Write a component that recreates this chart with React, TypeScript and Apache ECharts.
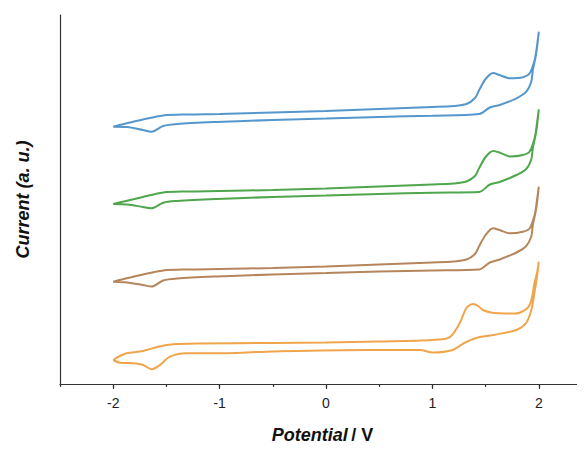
import React, { useEffect, useRef } from "react";
import * as echarts from "echarts";

// Potential (V) vs current (a.u.), each cyclic voltammogram as a closed loop
const blueCV: [number, number][] = [
  [-2.0, 257.3], [-1.9, 260], [-1.72, 264.5], [-1.53, 268.5], [-1.3, 269.5], [-1.0, 270],
  [-0.5, 271.5], [0, 273], [0.5, 275], [1.0, 277], [1.2, 278], [1.32, 280], [1.4, 286],
  [1.44, 294], [1.5, 305], [1.57, 311], [1.63, 309], [1.73, 305.7], [1.85, 306.7],
  [1.914, 310.7], [1.961, 324], [1.982, 337.3], [2.0, 352.3],
  [1.975, 330], [1.944, 314], [1.929, 302.3], [1.882, 292.3], [1.79, 285.7], [1.632, 279],
  [1.54, 276.5], [1.44, 270], [1.0, 268.3], [0.5, 267], [0, 265.5], [-0.5, 264],
  [-1.03, 262], [-1.4, 260], [-1.53, 258], [-1.64, 252.3], [-1.72, 254], [-1.87, 257],
  [-2.0, 257.3],
];

const greenCV: [number, number][] = [
  [-2.0, 180], [-1.9, 182.5], [-1.72, 187], [-1.53, 191.5], [-1.3, 192.5], [-1.0, 193],
  [-0.5, 194], [0, 195.5], [0.5, 197.5], [1.0, 199.5], [1.2, 200.5], [1.32, 202.5],
  [1.4, 208], [1.44, 216], [1.5, 227], [1.57, 233], [1.63, 231.5], [1.73, 227.5],
  [1.85, 229], [1.914, 232.5], [1.961, 246], [1.982, 260], [2.0, 274.7],
  [1.975, 252], [1.944, 236], [1.929, 224.5], [1.882, 215], [1.79, 209], [1.632, 202],
  [1.54, 199.5], [1.44, 192], [1.0, 191.3], [0.5, 190], [0, 188.5], [-0.5, 187],
  [-1.03, 185], [-1.4, 183], [-1.53, 181.3], [-1.64, 175.7], [-1.72, 177], [-1.87, 179.5],
  [-2.0, 180],
];

const brownCV: [number, number][] = [
  [-2.0, 102.3], [-1.9, 105], [-1.72, 109.5], [-1.53, 113.5], [-1.3, 114.5], [-1.0, 115],
  [-0.5, 116], [0, 117.5], [0.5, 119.5], [1.0, 121.5], [1.2, 122.5], [1.32, 124.5],
  [1.4, 130], [1.44, 138], [1.5, 149], [1.57, 155.7], [1.63, 154], [1.73, 150.7],
  [1.85, 152.3], [1.914, 155.5], [1.961, 169], [1.982, 183], [2.0, 197.3],
  [1.975, 175], [1.944, 159], [1.929, 147.5], [1.882, 138], [1.79, 131.5], [1.632, 124.5],
  [1.54, 121.5], [1.44, 114.5], [1.0, 113.5], [0.5, 112.5], [0, 111], [-0.5, 109.5],
  [-1.03, 107.5], [-1.4, 105.5], [-1.53, 103.5], [-1.64, 97.5], [-1.72, 99], [-1.87, 101.5],
  [-2.0, 102.3],
];

const orangeCV: [number, number][] = [
  [-2.0, 24], [-1.937, 28], [-1.874, 30.7], [-1.75, 32.5], [-1.686, 34], [-1.577, 37.3],
  [-1.436, 39.7], [-1.2, 40.5], [-0.5, 41], [0, 41.5], [0.5, 42.5], [1.0, 44], [1.16, 46.7],
  [1.256, 60.7], [1.319, 75.7], [1.381, 80], [1.43, 78], [1.475, 74], [1.55, 71.5],
  [1.632, 70.7], [1.75, 70.5], [1.82, 71.3], [1.914, 79], [1.96, 101], [1.985, 112],
  [2.0, 122.3],
  [1.985, 109], [1.96, 92], [1.93, 74], [1.88, 61], [1.79, 54], [1.57, 49], [1.41, 46],
  [1.3, 41], [1.19, 34], [1.005, 31.5], [0.88, 34], [0.38, 34], [-0.56, 32.3],
  [-1.03, 30.7], [-1.31, 30.7], [-1.467, 27.3], [-1.561, 19], [-1.639, 14.7],
  [-1.718, 19], [-1.812, 20.7], [-1.937, 21.3], [-2.0, 24],
];

const majorTicks = [-2, -1, 0, 1, 2];
const xTitle = "{a|Potential} {b|/ V}";
const yTitle = "Current (a. u.)";

const axisColor = "#333333";
const font = "Liberation Sans, Arial, sans-serif";

export default function App() {
  const ref = useRef<HTMLDivElement>(null);
  useEffect(() => {
    if (!ref.current) return;
    const chart = echarts.init(ref.current, undefined, { renderer: "svg" });
    const mk = (data: [number, number][], color: string) => ({
      type: "line",
      data,
      showSymbol: false,
      smooth: 0.3,
      lineStyle: { color, width: 2 },
      xAxisIndex: 0,
      yAxisIndex: 0,
    });
    chart.setOption({
      animation: false,
      grid: { left: 60, right: -7, top: 15, bottom: 66 },
      xAxis: [
        {
          type: "value",
          min: -2.5,
          max: 2.5,
          splitLine: { show: false },
          axisLine: { show: true, onZero: false, lineStyle: { color: axisColor, width: 1.2 } },
          axisTick: { show: true, length: 5, customValues: majorTicks, lineStyle: { color: axisColor, width: 1.2 } },
          axisLabel: {
            customValues: majorTicks,
            margin: 12,
            fontSize: 14,
            color: "#222",
            fontFamily: font,
          },
          name: xTitle,
          nameLocation: "middle",
          nameGap: 42,
          nameTextStyle: {
            padding: [0, 7, 0, 0],
            rich: {
              a: { fontSize: 18, fontWeight: "bold", fontStyle: "italic", fontFamily: font, color: "#111" },
              b: { fontSize: 18, fontWeight: "bold", fontFamily: font, color: "#111" },
            },
          },
        },
        {
          type: "value",
          min: -2.5,
          max: 2.5,
          interval: 0.5,
          position: "bottom",
          splitLine: { show: false },
          axisLine: { show: false, onZero: false },
          axisTick: { show: true, length: 3, lineStyle: { color: axisColor, width: 1.2 } },
          axisLabel: { show: false },
        },
      ],
      yAxis: {
        type: "value",
        min: 0,
        max: 369,
        splitLine: { show: false },
        axisLine: { show: true, onZero: false, lineStyle: { color: axisColor, width: 1.2 } },
        axisTick: { show: false },
        axisLabel: { show: false },
        name: yTitle,
        nameLocation: "middle",
        nameGap: 28,
        nameTextStyle: {
          fontSize: 18,
          fontWeight: "bold",
          fontStyle: "italic",
          fontFamily: font,
          color: "#111",
        },
      },
      series: [
        mk(blueCV, "#5597cc"),
        mk(greenCV, "#4fa64c"),
        mk(brownCV, "#b5855c"),
        mk(orangeCV, "#f0a54c"),
      ],
    });
    return () => chart.dispose();
  }, []);
  return <div ref={ref} style={{ width: 592, height: 450, margin: -8 }} />;
}
